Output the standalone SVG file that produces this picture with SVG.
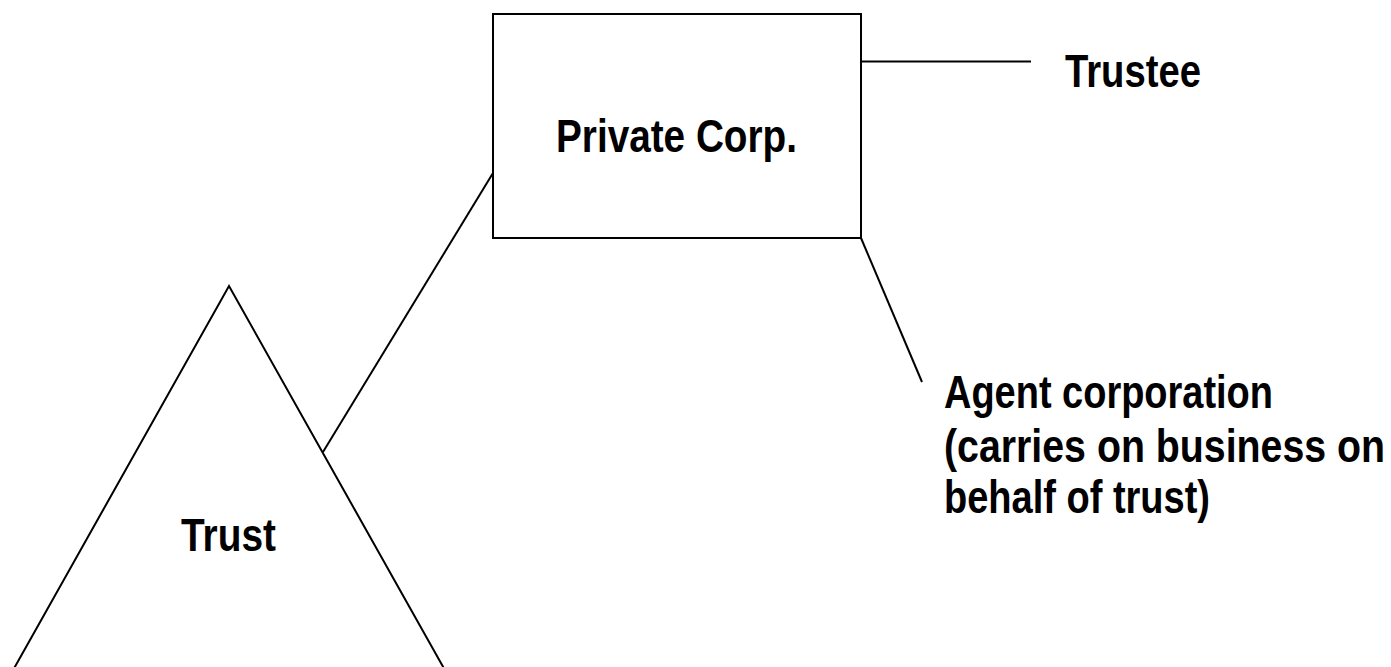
<svg xmlns="http://www.w3.org/2000/svg" width="1391" height="667" viewBox="0 0 1391 667">
<style>
.shape{fill:none;stroke:#000;stroke-width:2}
.conn{fill:none;stroke:#000;stroke-width:2}
.lbl{font-family:"Liberation Sans Narrow","Liberation Sans",Arial,sans-serif;font-weight:bold;font-size:47px;fill:#000}
</style>
<rect width="1391" height="667" fill="#fff"/>
<g id="connectors">
<line class="conn" x1="323" y1="452" x2="493" y2="173"/>
<line class="conn" x1="861" y1="61.5" x2="1031" y2="61.5"/>
<line class="conn" x1="861" y1="238" x2="922" y2="382"/>
</g>
<g id="private-corp">
<rect class="shape" x="493" y="14" width="368" height="224"/>
<text class="lbl" x="556" y="152" textLength="241" lengthAdjust="spacingAndGlyphs">Private Corp.</text>
</g>
<g id="trust">
<polyline class="shape" points="12,672 229,286 446,672"/>
<text class="lbl" x="181" y="551" textLength="95" lengthAdjust="spacingAndGlyphs">Trust</text>
</g>
<g id="trustee">
<text class="lbl" x="1065" y="87" textLength="136" lengthAdjust="spacingAndGlyphs">Trustee</text>
</g>
<g id="agent-corporation">
<text class="lbl" x="944" y="408" textLength="329" lengthAdjust="spacingAndGlyphs">Agent corporation</text>
<text class="lbl" x="944" y="462" textLength="441" lengthAdjust="spacingAndGlyphs">(carries on business on</text>
<text class="lbl" x="944" y="513" textLength="266" lengthAdjust="spacingAndGlyphs">behalf of trust)</text>
</g>
</svg>
